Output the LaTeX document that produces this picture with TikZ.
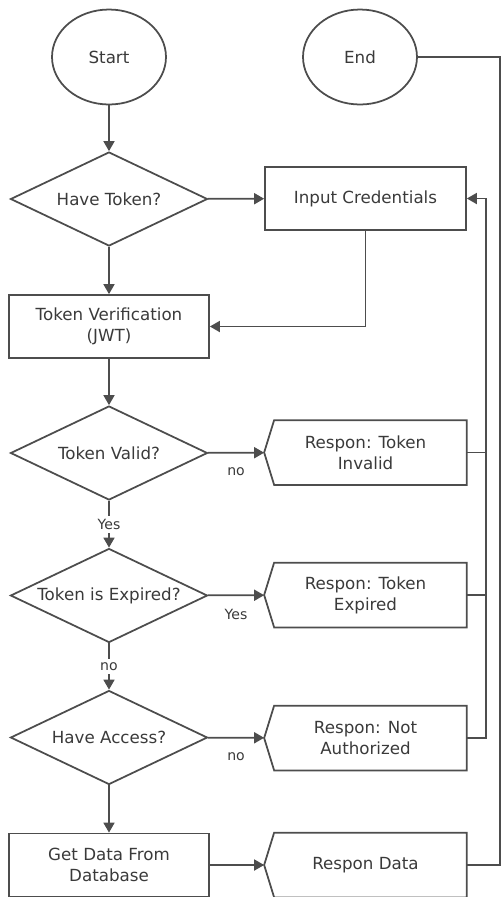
\documentclass[tikz,border=0pt]{standalone}
\usepackage{fontspec}
\setmainfont{DejaVu Sans}
\usepackage{xcolor}
\usetikzlibrary{shapes.geometric, arrows.meta, calc}
\definecolor{linegray}{HTML}{4D4D4D}
\definecolor{textgray}{HTML}{3A3A3A}

\tikzset{
    base/.style={draw=linegray, line width=1pt, text=textgray, font=\fontsize{9.5}{12}\selectfont, align=center, inner sep=1pt},
    terminal/.style={base, ellipse, minimum width=2.28cm, minimum height=1.9cm},
    decision/.style={base, diamond, aspect=2.1, minimum width=3.94cm, minimum height=1.88cm},
    process/.style={base, rectangle, minimum width=4cm, minimum height=1.26cm},
    respon/.style={base, draw=none, rectangle, minimum width=4.02cm, minimum height=1.26cm},
    line/.style={draw=linegray, line width=1pt},
    arrow/.style={line, -{Triangle[length=0.2cm, width=0.22cm]}},
    lbl/.style={text=textgray, font=\fontsize{8}{10}\selectfont, inner sep=2pt},
    sidelbl/.style={lbl, below, yshift=-0.2cm}
}

\begin{document}
\begin{tikzpicture}[x=0.02cm, y=-0.02cm]
    \useasboundingbox (0,0) rectangle (501,897);

    % Start and end
    \node[terminal] (start) at (109,57) {Start};
    \node[terminal] (end) at (360,57) {End};

    % Main column
    \node[decision] (token) at (109,199) {Have Token?};
    \node[process, minimum width=4.02cm] (cred) at (365.5,198.5) {Input Credentials};
    \node[process] (verif) at (109,326.5) {Token Verification\\(JWT)};
    \node[decision] (valid) at (109,453) {Token Valid?};
    \node[decision] (expired) at (109,595.5) {Token is Expired?};
    \node[decision] (access) at (109,737.5) {Have Access?};
    \node[process] (getdata) at (109,865) {Get Data From\\Database};

    % Responses
    \node[respon] (invalid) at (365.5,452.5) {Respon: Token\\Invalid};
    \node[respon] (rexpired) at (365.5,595) {Respon: Token\\Expired};
    \node[respon] (notauth) at (365.5,738) {Respon: Not\\Authorized};
    \node[respon] (rdata) at (365.5,865) {Respon Data};
    \foreach \n in {invalid, rexpired, notauth, rdata}
        \draw[line] ([xshift=0.2cm]\n.north west) -- (\n.north east) -- (\n.south east)
            -- ([xshift=0.2cm]\n.south west) -- (\n.west) -- cycle;

    % Flow
    \draw[arrow] (start) -- (token);
    \draw[arrow] (token) -- (cred);
    \draw[arrow] (token) -- (verif);
    \draw[arrow] (cred.south) |- (verif.east);
    \draw[arrow] (verif) -- (valid);
    \draw[arrow] (valid) -- node[sidelbl] {no} (invalid);
    \draw[arrow] (valid) -- node[lbl, fill=white] {Yes} (expired);
    \draw[arrow] (expired) -- node[sidelbl] {Yes} (rexpired);
    \draw[arrow] (expired) -- node[lbl, fill=white] {no} (access);
    \draw[arrow] (access) -- node[sidelbl] {no} (notauth);
    \draw[arrow] (access) -- (getdata);
    \draw[arrow] (getdata) -- (rdata);

    % Back to input credentials
    \coordinate (bus) at (486,0);
    \draw[arrow] (notauth.east) -- (notauth.east -| bus) -- (cred.east -| bus) -- (cred.east);
    \draw[line] (invalid.east) -- (invalid.east -| bus);
    \draw[line] (rexpired.east) -- (rexpired.east -| bus);

    % Back to end
    \draw[line] (rdata.east) -- ++(33,0) |- (end.east);
\end{tikzpicture}
\end{document}
